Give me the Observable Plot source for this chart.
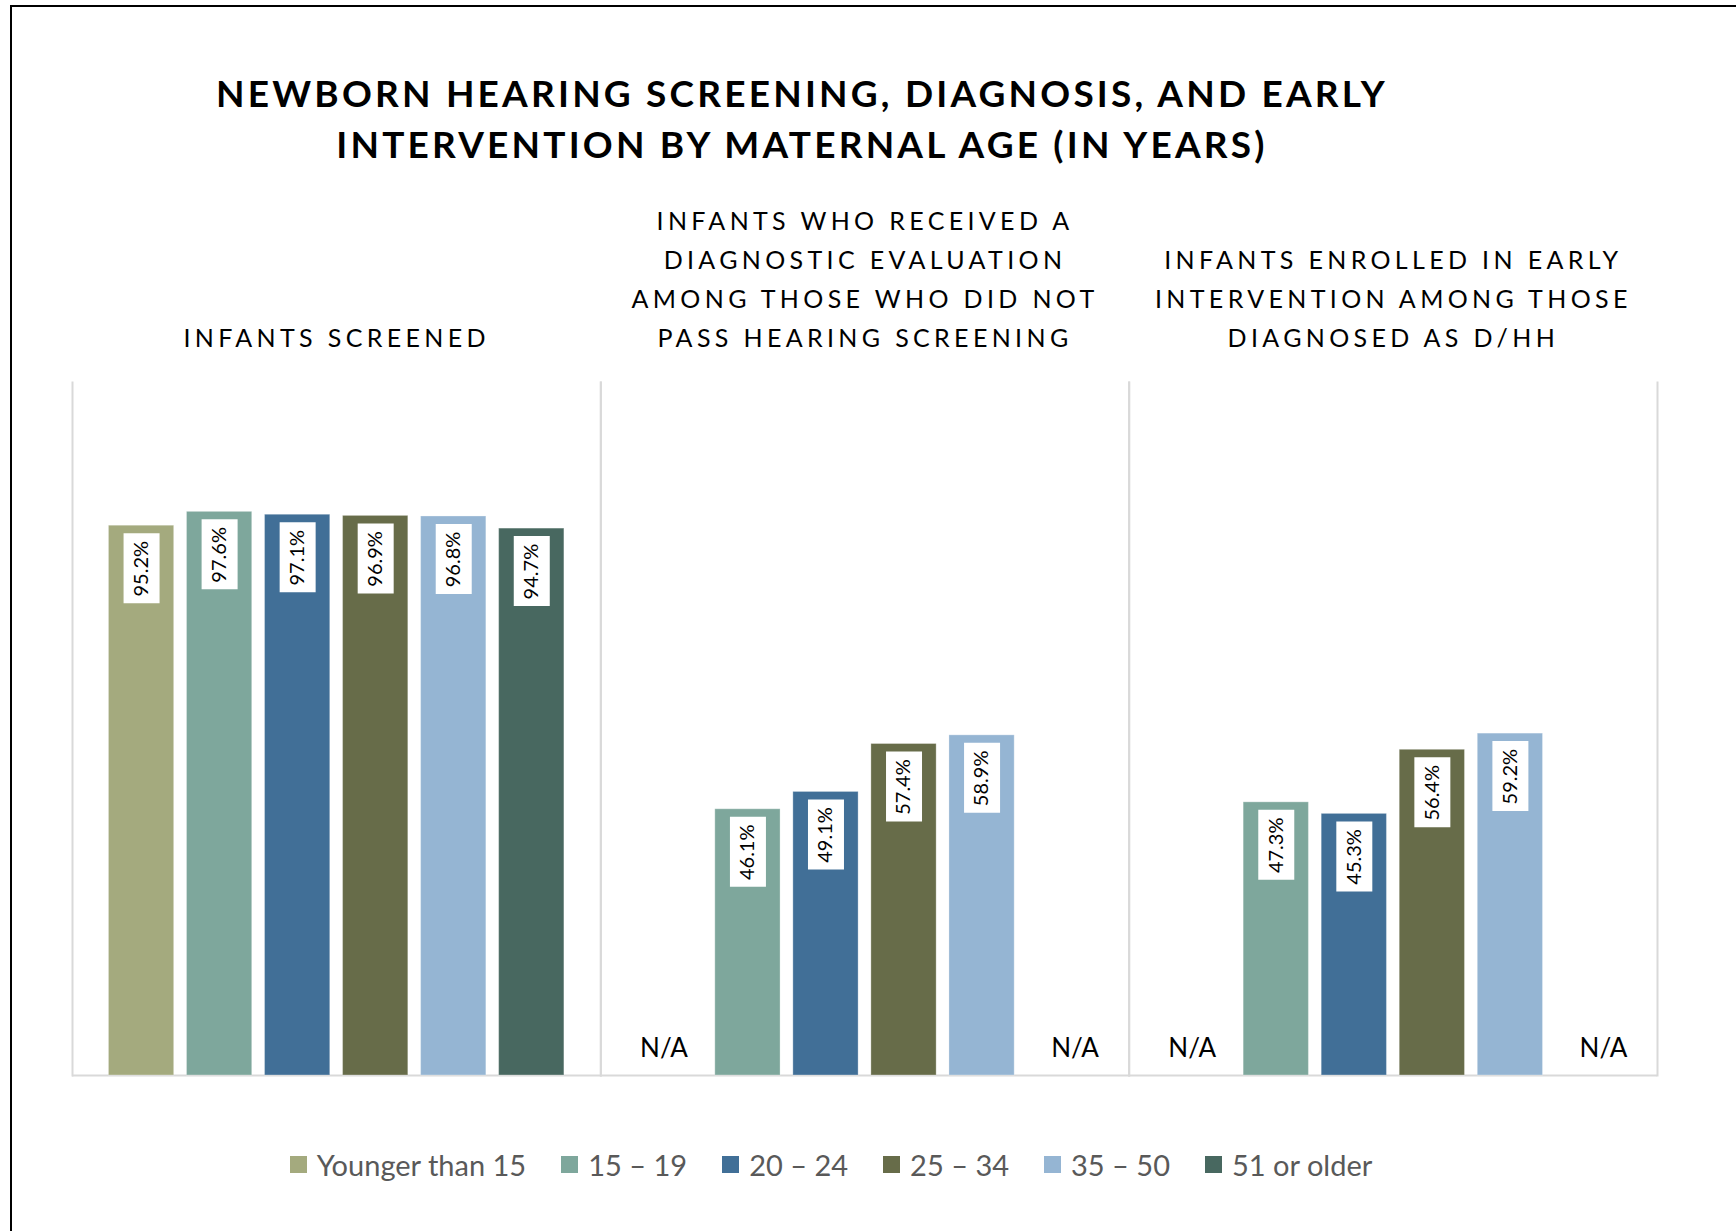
<!DOCTYPE html>
<html>
<head>
<meta charset="utf-8">
<script src="https://cdn.jsdelivr.net/npm/d3@7"></script>
<script src="https://cdn.jsdelivr.net/npm/@observablehq/plot@0.6"></script>
<style>
  html, body { margin: 0; padding: 0; background: #fff; width: 1736px; height: 1231px; overflow: hidden; position: relative; }
  #frame { position: absolute; left: 10px; top: 5px; width: 2000px; height: 2000px; border: 2px solid #000; box-sizing: border-box; }
  #title { position: absolute; left: 0; width: 1604px; top: 67px; text-align: center; font-family: Lato, sans-serif; font-weight: 700; font-size: 37px; letter-spacing: 3.2px; line-height: 51px; color: #000; }
  #chart { position: absolute; left: 0; top: 190px; }
  #legend { position: absolute; left: 0; width: 1662px; top: 1147px; display: flex; justify-content: center; gap: 35px; font-family: Lato, sans-serif; font-size: 29px; color: #595959; }
  .item { display: flex; align-items: center; white-space: nowrap; }
  .sw { width: 17px; height: 17px; margin-right: 10px; }
</style>
</head>
<body>
<div id="frame"></div>
<div id="title">NEWBORN HEARING SCREENING, DIAGNOSIS, AND EARLY<br>INTERVENTION BY MATERNAL AGE (IN YEARS)</div>
<div id="chart"></div>
<div id="legend"></div>
<script>
// ---- data ----
const panelKeys = ["screened", "diagnosed", "enrolled"];
const panelTitles = [
  "INFANTS SCREENED",
  "INFANTS WHO RECEIVED A\nDIAGNOSTIC EVALUATION\nAMONG THOSE WHO DID NOT\nPASS HEARING SCREENING",
  "INFANTS ENROLLED IN EARLY\nINTERVENTION AMONG THOSE\nDIAGNOSED AS D/HH"
];
const ageGroups = ["Younger than 15", "15 – 19", "20 – 24", "25 – 34", "35 – 50", "51 or older"];
const ageColors = ["#A4AA7E", "#7EA79C", "#416F97", "#676C49", "#95B5D3", "#486860"];
const screenedValues  = [95.2, 97.6, 97.1, 96.9, 96.8, 94.7];
const diagnosedValues = [null, 46.1, 49.1, 57.4, 58.9, null];
const enrolledValues  = [null, 47.3, 45.3, 56.4, 59.2, null];
const naLabel = "N/A";

// ---- table built from the arrays ----
const seriesByPanel = [screenedValues, diagnosedValues, enrolledValues];
const rows = [];
panelKeys.forEach((p, pi) => ageGroups.forEach((a, ai) => rows.push({panel: p, age: a, idx: ai, value: seriesByPanel[pi][ai]})));
const bars = rows.filter(d => d.value != null);
const missingFirst = rows.filter(d => d.value == null && d.idx === 0);
const missingLast = rows.filter(d => d.value == null && d.idx === ageGroups.length - 1);
const titles = panelKeys.map((p, i) => ({panel: p, title: panelTitles[i]}));

const grid = "#d9d9d9";
const chart = Plot.plot({
  width: 1736,
  height: 895,
  marginLeft: 72,
  marginRight: 79,
  marginTop: 192,
  marginBottom: 10,
  fx: {domain: panelKeys, paddingInner: 0, paddingOuter: 0, axis: null, round: false},
  x: {domain: ageGroups, paddingInner: 0.164, paddingOuter: 0.467, axis: null, round: false},
  y: {domain: [0, 120], axis: null},
  color: {domain: ageGroups, range: ageColors},
  style: {fontFamily: "Lato, sans-serif", background: "transparent"},
  marks: [
    Plot.frame({anchor: "left", stroke: grid, strokeWidth: 2}),
    Plot.frame({anchor: "right", stroke: grid, strokeWidth: 2}),
    Plot.ruleY([0], {stroke: grid, strokeWidth: 2}),
    Plot.barY(bars, {fx: "panel", x: "age", y: "value", fill: "age", stroke: "white", strokeOpacity: 0.3, strokeWidth: 1}),
    Plot.ruleX(bars, {fx: "panel", x: "age", y1: "value", y2: "value", stroke: "white", strokeWidth: 36, insetTop: 8, insetBottom: -78}),
    Plot.text(bars, {fx: "panel", x: "age", y: "value", text: d => d.value.toFixed(1) + "%", rotate: -90, dy: 43, fontSize: 20, fill: "#000"}),
    Plot.text(missingFirst, {fx: "panel", x: "age", y: () => 0, text: () => naLabel, dx: -6, dy: -27, fontSize: 26, fill: "#000"}),
    Plot.text(missingLast, {fx: "panel", x: "age", y: () => 0, text: () => naLabel, dx: 15, dy: -27, fontSize: 26, fill: "#000"}),
    Plot.text(titles, {fx: "panel", text: "title", frameAnchor: "top", lineAnchor: "bottom", dy: -36, fontSize: 25, lineHeight: 1.55, fill: "#000"})
  ]
});
document.getElementById("chart").appendChild(chart);

// letter spacing for panel titles
const titleSet = new Set(panelTitles.map(t => t.replace(/\n/g, "")));
chart.querySelectorAll("text").forEach(t => {
  if (titleSet.has(t.textContent)) t.setAttribute("letter-spacing", "4.35px");
});

// legend
const legend = document.getElementById("legend");
ageGroups.forEach((a, i) => {
  const item = document.createElement("div");
  item.className = "item";
  const sw = document.createElement("div");
  sw.className = "sw";
  sw.style.background = ageColors[i];
  const lab = document.createElement("span");
  lab.textContent = a;
  item.appendChild(sw);
  item.appendChild(lab);
  legend.appendChild(item);
});
</script>
</body>
</html>
